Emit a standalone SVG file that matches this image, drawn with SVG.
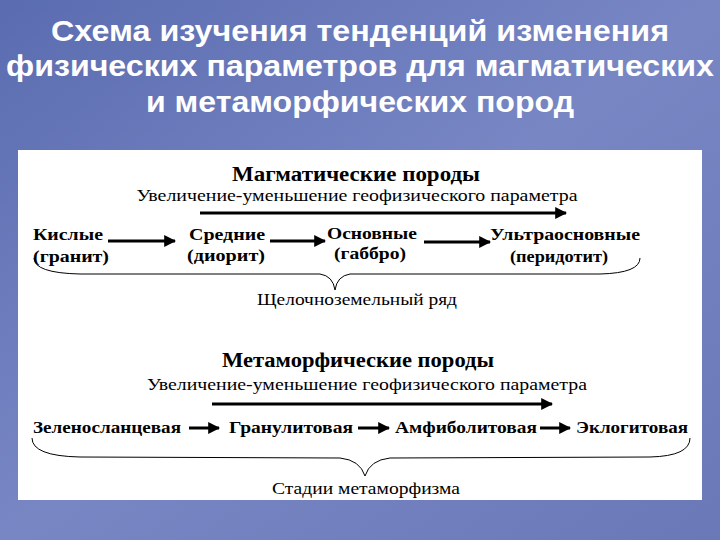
<svg xmlns="http://www.w3.org/2000/svg" width="720" height="540" viewBox="0 0 720 540">
<defs>
<linearGradient id="bg" x1="0" y1="0" x2="1" y2="1"><stop offset="0" stop-color="#5a6cb0"/><stop offset="0.5" stop-color="#7886c4"/><stop offset="1" stop-color="#6a78b8"/></linearGradient>
<marker id="ah" viewBox="0 0 10 10" refX="9" refY="5" markerWidth="4" markerHeight="4" orient="auto"><path d="M0,0 L10,5 L0,10 z" fill="#000"/></marker>
<style>
.t{font-family:"Liberation Sans",Arial,sans-serif;font-weight:bold;font-size:30px;fill:#fff;text-anchor:middle}
.h{font-family:"Liberation Serif",serif;font-weight:bold;font-size:20px;fill:#000;text-anchor:middle}
.s{font-family:"Liberation Serif",serif;font-size:17px;fill:#000;text-anchor:middle}
.n{font-family:"Liberation Serif",serif;font-weight:bold;font-size:17px;fill:#000;text-anchor:middle}
.a{stroke:#000;stroke-width:3;fill:none;marker-end:url(#ah)}
.b{stroke:#000;stroke-width:1;fill:none}
</style>
</defs>
<rect width="720" height="540" fill="url(#bg)"/>
<text class="t" x="360" y="41" textLength="618" lengthAdjust="spacingAndGlyphs">Схема изучения тенденций изменения</text>
<text class="t" x="360" y="76" textLength="708" lengthAdjust="spacingAndGlyphs">физических параметров для магматических</text>
<text class="t" x="360" y="112" textLength="428" lengthAdjust="spacingAndGlyphs">и метаморфических пород</text>
<rect x="18" y="150" width="684" height="350" fill="#fff"/>
<g id="mag-title"><text class="h" x="356" y="181" textLength="248" lengthAdjust="spacingAndGlyphs">Магматические породы</text><text class="s" x="357" y="201" textLength="441" lengthAdjust="spacingAndGlyphs">Увеличение-уменьшение  геофизического параметра</text></g>
<g id="n1"><text class="n" x="68" y="240" textLength="70" lengthAdjust="spacingAndGlyphs">Кислые</text><text class="n" x="71" y="262" textLength="76" lengthAdjust="spacingAndGlyphs">(гранит)</text></g>
<g id="n2"><text class="n" x="227" y="240" textLength="76" lengthAdjust="spacingAndGlyphs">Средние</text><text class="n" x="226" y="261" textLength="78" lengthAdjust="spacingAndGlyphs">(диорит)</text></g>
<g id="n3"><text class="n" x="372" y="239" textLength="90" lengthAdjust="spacingAndGlyphs">Основные</text><text class="n" x="370" y="259" textLength="72" lengthAdjust="spacingAndGlyphs">(габбро)</text></g>
<g id="n4"><text class="n" x="565" y="240" textLength="150" lengthAdjust="spacingAndGlyphs">Ультраосновные</text><text class="n" x="559" y="262" textLength="98" lengthAdjust="spacingAndGlyphs">(перидотит)</text></g>
<g id="mag-foot"><text class="s" x="357" y="305" textLength="200" lengthAdjust="spacingAndGlyphs">Щелочноземельный ряд</text></g>
<g id="met-title"><text class="h" x="358" y="367" textLength="272" lengthAdjust="spacingAndGlyphs">Метаморфические породы</text><text class="s" x="367" y="390" textLength="440" lengthAdjust="spacingAndGlyphs">Увеличение-уменьшение  геофизического параметра</text></g>
<g id="m1"><text class="n" x="107" y="433" textLength="148" lengthAdjust="spacingAndGlyphs">Зеленосланцевая</text></g>
<g id="m2"><text class="n" x="291" y="433" textLength="124" lengthAdjust="spacingAndGlyphs">Гранулитовая</text></g>
<g id="m3"><text class="n" x="466" y="433" textLength="142" lengthAdjust="spacingAndGlyphs">Амфиболитовая</text></g>
<g id="m4"><text class="n" x="632" y="433" textLength="112" lengthAdjust="spacingAndGlyphs">Эклогитовая</text></g>
<g id="met-foot"><text class="s" x="366" y="494" textLength="188" lengthAdjust="spacingAndGlyphs">Стадии метаморфизма</text></g>
<g id="connectors">
<line class="a" x1="200" y1="213" x2="566" y2="213"/>
<line class="a" x1="108" y1="241" x2="175" y2="241"/>
<line class="a" x1="270" y1="241" x2="325" y2="241"/>
<line class="a" x1="424" y1="242" x2="490" y2="242"/>
<path class="b" d="M34,258 Q34,273 80,274 L320,274 Q333,276 335,290 Q337,276 350,274 L600,274 Q640,273 640,258"/>
<line class="a" x1="212" y1="404" x2="552" y2="404"/>
<line class="a" x1="189" y1="428" x2="219" y2="428"/>
<line class="a" x1="358" y1="428" x2="389" y2="428"/>
<line class="a" x1="540" y1="428" x2="570" y2="428"/>
<path class="b" d="M32,438 Q32,456 80,457 L340,458 Q360,460 365,476 Q370,460 390,458 L650,457 Q690,456 690,438"/>
</g>
</svg>
